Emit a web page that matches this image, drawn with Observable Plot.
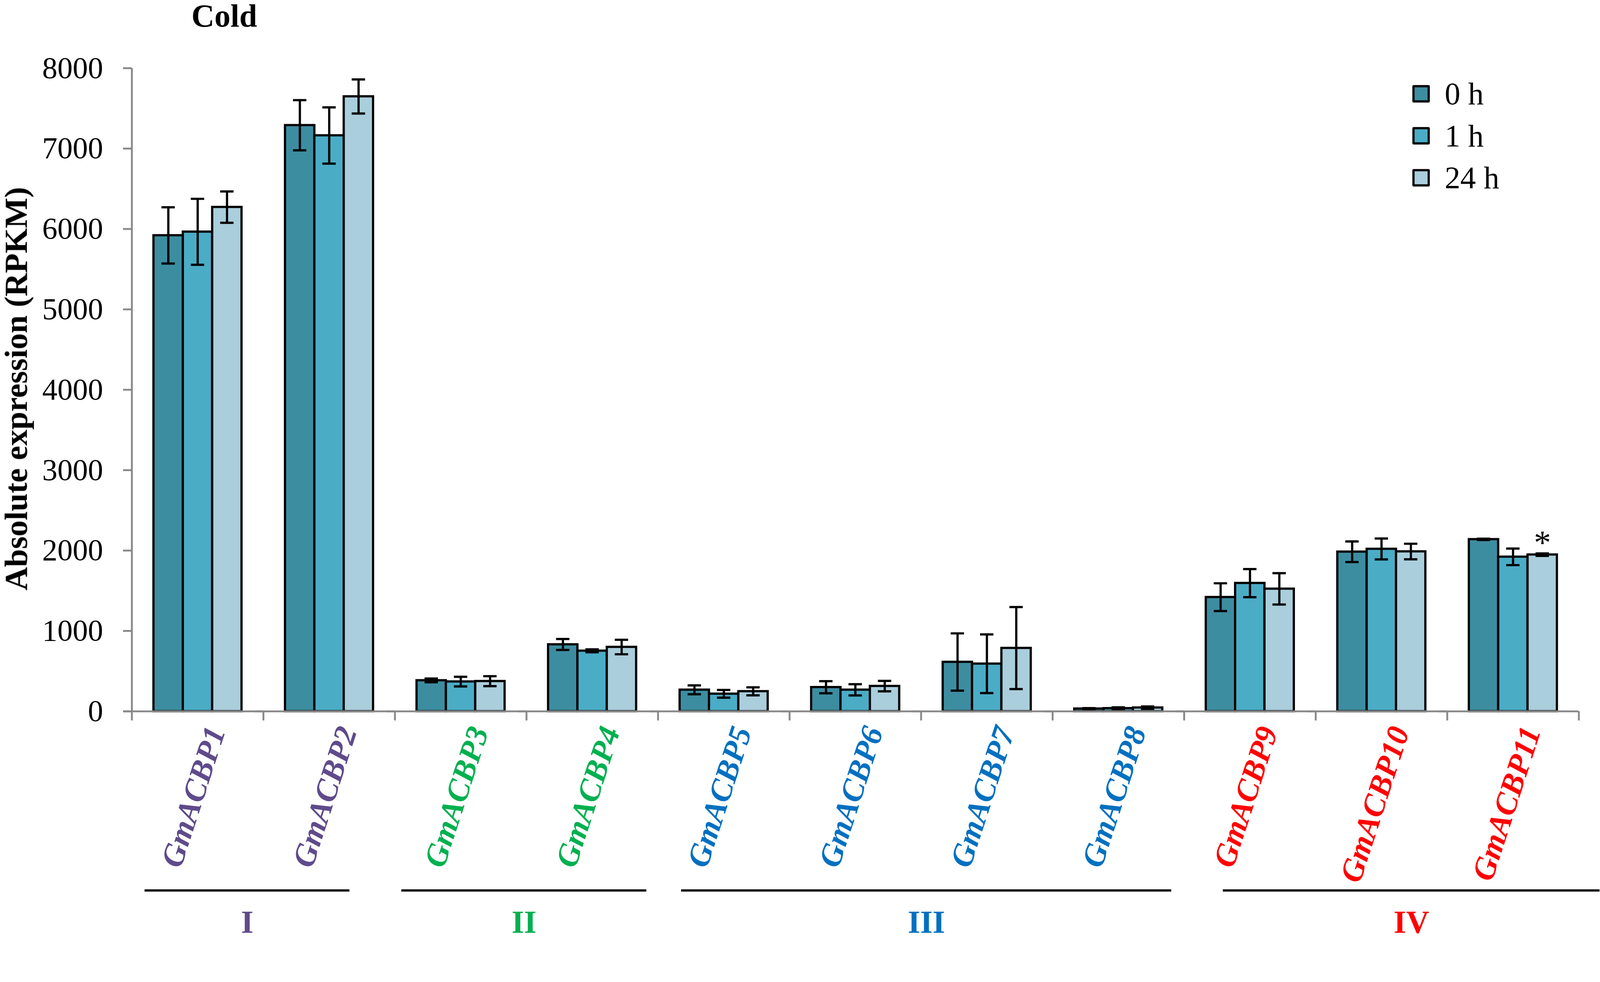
<!DOCTYPE html>
<html>
<head>
<meta charset="utf-8">
<script src="https://cdn.jsdelivr.net/npm/d3@7"></script>
<script src="https://cdn.jsdelivr.net/npm/@observablehq/plot@0.6"></script>
<style>
html, body { margin: 0; padding: 0; background: #fff; overflow: hidden; }
#wrap { position: relative; width: 4306px; height: 2514px; transform-origin: 0 0; }
#chart svg { display: block; max-width: none !important; }
#legend { position: absolute; left: 3801px; top: 196px; font-family: "Liberation Serif", "Times New Roman", serif; font-size: 84px; color: #000; }
.row { display: flex; align-items: center; height: 113px; white-space: pre; }
.sw { width: 35px; height: 35px; border: 6px solid #000; border-radius: 4px; margin-right: 40px; box-sizing: content-box; }
</style>
</head>
<body>
<div id="wrap"><div id="chart"></div><div id="legend"></div></div>
<script>
// ---------- data ----------
const genes = ["GmACBP1","GmACBP2","GmACBP3","GmACBP4","GmACBP5","GmACBP6","GmACBP7","GmACBP8","GmACBP9","GmACBP10","GmACBP11"];
const times = ["0 h", "1 h", "24 h"];
const mean0h  = [5920, 7290, 385, 832, 268, 300, 614, 33, 1420, 1985, 2140];
const mean1h  = [5965, 7163, 370, 753, 218, 268, 592, 38, 1595, 2020, 1922];
const mean24h = [6272, 7648, 375, 800, 249, 314, 787, 46, 1524, 1988, 1949];
const err0h   = [350, 312, 23, 68, 55, 75, 356, 7, 173, 128, 8];
const err1h   = [410, 350, 60, 18, 48, 70, 365, 12, 175, 130, 103];
const err24h  = [195, 212, 62, 90, 50, 65, 510, 15, 195, 97, 15];
const groupNames  = ["I", "II", "III", "IV"];
const groupOfGene = ["I","I","II","II","III","III","III","III","IV","IV","IV"];
const starred = [{gene: "GmACBP11", time: "24 h"}];
const yTicks = [0, 1000, 2000, 3000, 4000, 5000, 6000, 7000, 8000];
const yLabel = "Absolute expression (RPKM)";
const title = "Cold";

// ---------- styles / layout ----------
const groupColors = ["#5F4B8B", "#00B050", "#0070C0", "#FF0000"];
const timeColors = ["#3D8DA1", "#4BACC6", "#AACEDC"];
const gray = "#898989";
const FONT = '"Liberation Serif", "Times New Roman", serif';
const W = 4306, H = 2514, mL = 352, mR = 56, mT = 183, mB = 600;
const PO = 0.74;
const facetW = (W - mL - mR) / genes.length;
const step = facetW / (times.length + 2 * PO);
const edge = facetW / 2 - step;           // from first band centre to facet edge
const capInset = (step - 36) / 2;
// group underline offsets (px): start from first facet's left, end from last facet's right
const groupLayout = [{start: 35, end: -122}, {start: 18, end: -31}, {start: 63, end: -35}, {start: 105, end: 56}];

const means = [mean0h, mean1h, mean24h];
const errs = [err0h, err1h, err24h];
const data = genes.flatMap((g, i) => times.map((t, j) => ({gene: g, time: t, value: means[j][i], err: errs[j][i]})));
const geneColor = g => groupColors[groupNames.indexOf(groupOfGene[genes.indexOf(g)])];
const starData = data.filter(d => starred.some(s => s.gene === d.gene && s.time === d.time));

const groupMarks = groupNames.flatMap((name, k) => {
  const members = genes.filter((g, i) => groupOfGene[i] === name);
  const {start, end} = groupLayout[k];
  const spanEnd = members.length * facetW + end;
  return [
    Plot.ruleY([0], {fx: () => members[0], dy: 482, insetLeft: start, insetRight: facetW - spanEnd, stroke: "black", strokeWidth: 6}),
    Plot.text([name], {fx: () => members[0], frameAnchor: "bottom-left", dx: (start + spanEnd) / 2, dy: 568,
      textAnchor: "middle", lineAnchor: "middle", fill: groupColors[k], fontWeight: "bold", fontSize: 86, fontFamily: FONT})
  ];
});

const chart = Plot.plot({
  width: W, height: H,
  marginLeft: mL, marginRight: mR, marginTop: mT, marginBottom: mB,
  style: {fontFamily: FONT, background: "white", overflow: "visible"},
  fx: {domain: genes, padding: 0, axis: null, label: null},
  x: {domain: times, paddingInner: 0, paddingOuter: PO, axis: null},
  y: {domain: [0, 8000], axis: null},
  color: {domain: times, range: timeColors},
  marks: [
    Plot.barY(data, {fx: "gene", x: "time", y: "value", fill: "time", stroke: "black", strokeWidth: 6}),
    Plot.ruleX(data, {fx: "gene", x: "time", y1: d => d.value - d.err, y2: d => d.value + d.err, stroke: "black", strokeWidth: 6}),
    Plot.tickY(data, {fx: "gene", x: "time", y: d => d.value + d.err, insetLeft: capInset, insetRight: capInset, stroke: "black", strokeWidth: 6}),
    Plot.tickY(data, {fx: "gene", x: "time", y: d => d.value - d.err, insetLeft: capInset, insetRight: capInset, stroke: "black", strokeWidth: 6}),
    Plot.text(starData, {fx: "gene", x: "time", y: d => d.value + d.err, text: () => "*", dy: -28, fontSize: 92, fontFamily: FONT, fill: "black"}),
    // x axis line and category ticks
    Plot.ruleY([0], {stroke: gray, strokeWidth: 5, insetLeft: -22}),
    Plot.ruleX(genes, {fx: d => d, x: () => times[0], dx: -edge, y1: 0, y2: 0, insetBottom: -25, stroke: gray, strokeWidth: 5}),
    Plot.ruleX([genes[genes.length - 1]], {fx: d => d, x: () => times[times.length - 1], dx: edge, y1: 0, y2: 0, insetBottom: -25, stroke: gray, strokeWidth: 5}),
    // y axis line
    Plot.ruleX([genes[0]], {fx: d => d, x: () => times[0], dx: -edge, y1: 0, y2: 8000, stroke: gray, strokeWidth: 5}),
    Plot.axisY({ticks: yTicks, tickSize: 23, tickPadding: 54, stroke: gray, strokeWidth: 5, fill: "black",
      fontSize: 82, fontFamily: FONT, tickFormat: d3.format("d"), label: null, facetAnchor: "left"}),
    Plot.text([yLabel], {fx: () => genes[0], frameAnchor: "left", rotate: -90, dx: -310, dy: -3,
      textAnchor: "middle", lineAnchor: "middle", fontWeight: "bold", fontSize: 87, fontFamily: FONT, fill: "black"}),
    // gene labels
    Plot.text(genes, {fx: d => d, text: d => d, frameAnchor: "bottom", rotate: -72, textAnchor: "end", lineAnchor: "middle",
      dx: 50, dy: 44, fill: d => geneColor(d), fontStyle: "italic", fontWeight: "bold", fontSize: 85, fontFamily: FONT}),
    ...groupMarks,
    Plot.text([title], {fx: () => genes[0], frameAnchor: "top", dx: 72, dy: -140, lineAnchor: "middle",
      fontWeight: "bold", fontSize: 86, fontFamily: FONT, fill: "black"})
  ]
});
document.getElementById("chart").appendChild(chart);

// legend
const legend = document.getElementById("legend");
times.forEach((t, j) => {
  const row = document.createElement("div");
  row.className = "row";
  const sw = document.createElement("div");
  sw.className = "sw";
  sw.style.background = timeColors[j];
  const lab = document.createElement("span");
  lab.textContent = t;
  row.appendChild(sw); row.appendChild(lab);
  legend.appendChild(row);
});

// fit the whole 4306x2514 drawing into the viewport
const wrap = document.getElementById("wrap");
function fit() {
  const s = Math.min(window.innerWidth / W, window.innerHeight / H);
  wrap.style.transform = `scale(${s})`;
}
fit();
window.addEventListener("resize", fit);
</script>
</body>
</html>
